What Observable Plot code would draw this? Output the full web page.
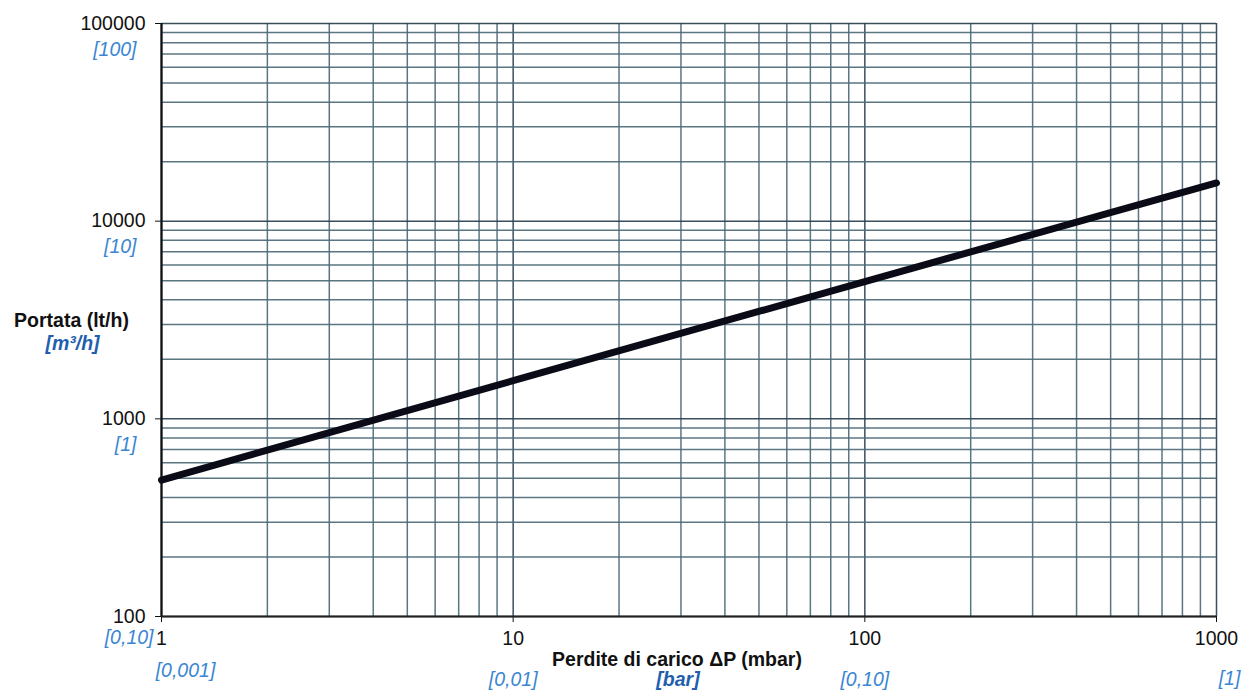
<!DOCTYPE html>
<html>
<head>
<meta charset="utf-8">
<script src="https://cdn.jsdelivr.net/npm/d3@7"></script>
<script src="https://cdn.jsdelivr.net/npm/@observablehq/plot@0.6"></script>
<style>
  html, body { margin: 0; padding: 0; background: #fff; }
  #chart svg { display: block; }
</style>
</head>
<body>
<div id="chart"></div>
<script>
// ---- data ----
const deltaP = [1, 10, 100, 1000];            // mbar
const portata = [490, 1560, 4950, 15600];     // lt/h
const xTicks = [1, 10, 100, 1000];
const yTicks = [100, 1000, 10000, 100000];
const xBarLabels = ["[0,001]", "[0,01]", "[0,10]", "[1]"];
const yM3Labels = ["[0,10]", "[1]", "[10]", "[100]"];
const xTitle = "Perdite di carico ΔP (mbar)";
const xUnit = "[bar]";
const yTitle = "Portata (lt/h)";
const yUnit = "[m³/h]";

const lineData = deltaP.map((d, i) => ({x: d, y: portata[i]}));
const xGrid = d3.scaleLog().domain([1, 1000]).ticks();
const yGrid = d3.scaleLog().domain([100, 100000]).ticks();
const xLab = xTicks.map((v, i) => ({v, t: xBarLabels[i], i}));
const yLab = yTicks.map((v, i) => ({v, t: yM3Labels[i], i}));

const gridColor = "#4d6a78";
const blue = "#3a86d2";
const darkBlue = "#1f5fae";
const common = {textAnchor: "middle", lineAnchor: "middle"};

const chart = Plot.plot({
  width: 1242,
  height: 691,
  marginLeft: 161,
  marginRight: 26,
  marginTop: 23,
  marginBottom: 75,
  style: {fontFamily: "'Liberation Sans', Arial, sans-serif", fontSize: "19.5px", background: "#fff", color: "#111"},
  x: {type: "log", domain: [1, 1000], ticks: xTicks, tickFormat: d => String(d), tickSize: 6, tickPadding: 9, label: null},
  y: {type: "log", domain: [100, 100000], ticks: yTicks, tickFormat: d => String(d), tickSize: 6, tickPadding: 10, label: null},
  marks: [
    Plot.ruleX(xGrid, {stroke: d => xTicks.includes(d) ? "#2a404c" : gridColor, strokeWidth: 1.5, strokeOpacity: 0.92}),
    Plot.ruleY(yGrid, {stroke: d => yTicks.includes(d) ? "#2a404c" : gridColor, strokeWidth: 1.5, strokeOpacity: 0.92}),
    Plot.ruleX([1], {stroke: "#111", strokeWidth: 2.2}),
    Plot.ruleY([100], {stroke: "#222", strokeWidth: 2.2}),
    Plot.line(lineData, {x: "x", y: "y", stroke: "#0b0b18", strokeWidth: 7}),
    // y secondary labels (m3/h)
    Plot.text(yLab.filter(d => d.i > 0), {y: "v", text: "t", frameAnchor: "left", textAnchor: "end", lineAnchor: "middle", dx: -25, dy: 26, fill: blue, fontStyle: "italic"}),
    Plot.text(yLab.filter(d => d.i === 0), {y: "v", text: "t", frameAnchor: "left", textAnchor: "end", lineAnchor: "middle", dx: -8, dy: 21, fill: blue, fontStyle: "italic"}),
    // x secondary labels (bar)
    Plot.text(xLab.filter(d => d.i === 0), {x: "v", text: "t", frameAnchor: "bottom", ...common, dx: 24, dy: 54, fill: blue, fontStyle: "italic"}),
    Plot.text(xLab.filter(d => d.i === 1 || d.i === 2), {x: "v", text: "t", frameAnchor: "bottom", ...common, dx: 0, dy: 63, fill: blue, fontStyle: "italic"}),
    Plot.text(xLab.filter(d => d.i === 3), {x: "v", text: "t", frameAnchor: "bottom", ...common, dx: 13, dy: 62, fill: blue, fontStyle: "italic"}),
    // titles
    Plot.text([yTitle], {text: d => d, frameAnchor: "left", ...common, dx: -90, dy: 1, fontWeight: "bold", fill: "#111"}),
    Plot.text([yUnit], {text: d => d, frameAnchor: "left", ...common, dx: -89, dy: 24, fontWeight: "bold", fontStyle: "italic", fill: darkBlue}),
    Plot.text([xTitle], {text: d => d, frameAnchor: "bottom", ...common, dx: -12, dy: 43, fontWeight: "bold", fill: "#111"}),
    Plot.text([xUnit], {text: d => d, frameAnchor: "bottom", ...common, dx: -11, dy: 63, fontWeight: "bold", fontStyle: "italic", fill: darkBlue})
  ]
});
document.getElementById("chart").appendChild(chart);
</script>
</body>
</html>
